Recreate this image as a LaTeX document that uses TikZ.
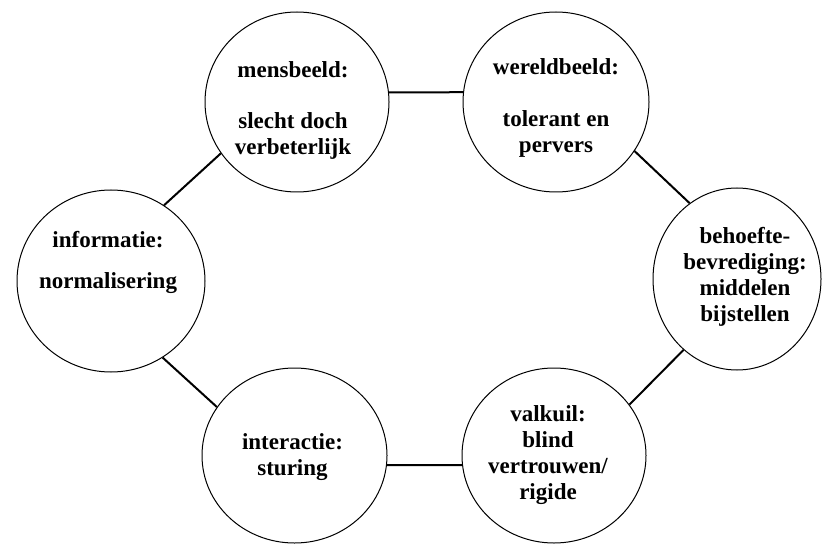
\documentclass[tikz,border=0pt]{standalone}
\usepackage{fontspec}
\setmainfont{Liberation Serif}
\usetikzlibrary{shapes.geometric}

\tikzset{
  bol/.style={ellipse, draw, line width=0.5pt, inner sep=0pt},
  tekst/.style={align=center, inner sep=0pt, font=\fontsize{11.5}{13}\selectfont\bfseries},
  lijn/.style={line width=1pt}
}

\begin{document}
\begin{tikzpicture}[x=0.5pt, y=-0.5pt]
    \useasboundingbox (0,0) rectangle (823,545);

    % Circles
    \node[bol, minimum width=92pt, minimum height=90pt] (mens) at (297,102) {};
    \node[bol, minimum width=93pt, minimum height=90pt] (wereld) at (556,102) {};
    \node[bol, minimum width=84pt, minimum height=91pt] (behoefte) at (737,279) {};
    \node[bol, minimum width=92pt, minimum height=87.5pt] (valkuil) at (554,455.5) {};
    \node[bol, minimum width=92.5pt, minimum height=87.5pt] (interactie) at (294.5,455.5) {};
    \node[bol, minimum width=94pt, minimum height=91pt] (info) at (111,281) {};

    % Texts
    \node[tekst] (menstxt) at ([shift={(-4,8.5)}]mens.center)
        {mensbeeld:\\[12.5pt]slecht doch\\verbeterlijk};
    \node[tekst] (wereldtxt) at ([shift={(0,6)}]wereld.center)
        {wereldbeeld:\\[13pt]tolerant en\\pervers};
    \node[tekst] (behoeftetxt) at ([shift={(8,-2)}]behoefte.center)
        {behoefte-\\bevrediging:\\middelen\\bijstellen};
    \node[tekst] (valkuiltxt) at ([shift={(-6,0)}]valkuil.center)
        {valkuil:\\blind\\vertrouwen/\\rigide};
    \node[tekst] (interactietxt) at ([shift={(-2,1.5)}]interactie.center)
        {interactie:\\sturing};
    \node[tekst] (infotxt) at ([shift={(-3,-19)}]info.center)
        {informatie:\\[7.5pt]normalisering};

    % Connectors
    \draw[lijn] (mens.6) -- (wereld.174);
    \draw[lijn] (wereld.-32) -- (behoefte.122);
    \draw[lijn] (behoefte.233) -- (valkuil.34);
    \draw[lijn] (valkuil.186) -- (interactie.-6);
    \draw[lijn] (interactie.148) -- (info.-56);
    \draw[lijn] (info.55) -- (mens.214);
\end{tikzpicture}
\end{document}
